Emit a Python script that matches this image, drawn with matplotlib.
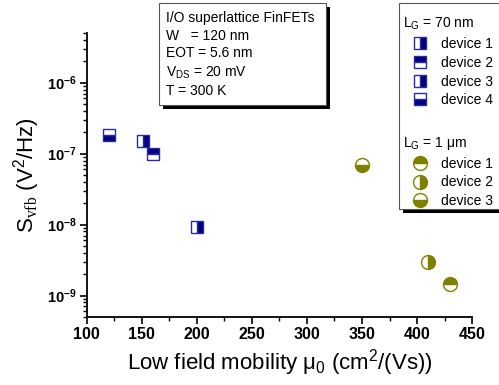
import matplotlib
matplotlib.use('Agg')
import matplotlib.pyplot as plt
from matplotlib.patches import Rectangle

plt.rcParams['font.family'] = ['Liberation Sans', 'DejaVu Sans']
plt.rcParams['mathtext.fontset'] = 'custom'
plt.rcParams['mathtext.rm'] = 'Liberation Sans'
plt.rcParams['mathtext.it'] = 'Liberation Sans:italic'
plt.rcParams['mathtext.bf'] = 'Liberation Sans:bold'
plt.rcParams['mathtext.sf'] = 'Liberation Serif'

# L_G = 70 nm devices
short_labels = ['device 1', 'device 2', 'device 3', 'device 4']
short_mu = [151, 160, 200, 120]
short_svfb = [1.5e-7, 1.0e-7, 9.1e-9, 1.83e-7]
short_fill = ['right', 'top', 'right', 'bottom']

# L_G = 1 um devices
long_labels = ['device 1', 'device 2', 'device 3']
long_mu = [430, 410, 350]
long_svfb = [1.46e-9, 3.0e-9, 7.0e-8]
long_fill = ['top', 'right', 'bottom']

navy = '#000080'
olive = '#808000'

fig = plt.figure(figsize=(4.99, 3.85), dpi=100)
ax = fig.add_axes([0.174, 0.177, 0.772, 0.737])

short_handles = []
for x, y, fs, lab in zip(short_mu, short_svfb, short_fill, short_labels):
    h, = ax.plot(x, y, 's', ms=9, fillstyle=fs, color=navy, mfc=navy,
                 mfcalt='white', mec='#2a2aa0', mew=1.0, linestyle='none', label=lab)
    short_handles.append(h)

long_handles = []
for x, y, fs, lab in zip(long_mu, long_svfb, long_fill, long_labels):
    h, = ax.plot(x, y, 'o', ms=10, fillstyle=fs, color=olive, mfc=olive,
                 mfcalt='white', mec=olive, mew=1.0, linestyle='none', label=lab)
    long_handles.append(h)

ax.set_yscale('log')
ax.set_xlim(100, 450)
ax.set_ylim(5e-10, 5e-6)
ax.set_xticks(range(100, 451, 50))
ax.set_xticks(range(125, 450, 50), minor=True)
ax.set_yticks([1e-9, 1e-8, 1e-7, 1e-6])
ax.set_yticklabels([r'$\mathbf{10^{-9}}$', r'$\mathbf{10^{-8}}$',
                    r'$\mathbf{10^{-7}}$', r'$\mathbf{10^{-6}}$'], fontsize=10.5)
for lab in ax.get_xticklabels():
    lab.set_fontweight('bold')
    lab.set_fontsize(11.5)
ax.tick_params(which='major', direction='out', length=5, width=1.2, pad=2)
ax.tick_params(which='minor', direction='out', length=3, width=1.0)
for s in ['top', 'right']:
    ax.spines[s].set_visible(False)
for s in ['left', 'bottom']:
    ax.spines[s].set_linewidth(1.3)

ax.set_xlabel(r'Low field mobility $\mathrm{\mu_0}$ (cm$^2$/(Vs))', fontsize=16, labelpad=4)
ax.set_ylabel(r'S$_{\mathsf{vfb}}$ (V$^2$/Hz)', fontsize=16, labelpad=4)

# info box with shadow
W, H = 499, 385
def fig_rect(x0, y0, x1, y1, **kw):
    r = Rectangle((x0 / W, 1 - y1 / H), (x1 - x0) / W, (y1 - y0) / H,
                  transform=fig.transFigure, **kw)
    fig.add_artist(r)

fig_rect(163, 7, 330, 109, facecolor='black', edgecolor='none', zorder=5)
fig_rect(159, 3, 326, 105, facecolor='white', edgecolor='#555555', lw=0.8, zorder=6)
info = ('I/O superlattice FinFETs\nW   = 120 nm\nEOT = 5.6 nm\n'
        r'V$_{\mathrm{DS}}$ = 20 mV' '\nT = 300 K')
fig.text(166 / W, 1 - 11 / H, info, fontsize=10, va='top', ha='left',
         linespacing=1.33, zorder=7)

# legend box with shadow
fig_rect(403, 8, 505, 213, facecolor='black', edgecolor='none', zorder=5)
fig_rect(399, 3, 510, 209, facecolor='white', edgecolor='#555555', lw=0.8, zorder=6)

leg_kw = dict(frameon=False, fontsize=10, title_fontsize=10, alignment='left',
              handlelength=2.4, handletextpad=0.35, labelspacing=0.34,
              borderpad=0, borderaxespad=0, loc='upper left', numpoints=1)
leg1 = fig.legend(handles=short_handles, title=r'L$_{\mathrm{G}}$ = 70 nm',
                  bbox_to_anchor=(403 / W, 1 - 16 / H), **leg_kw)
leg2 = fig.legend(handles=long_handles, title=r'L$_{\mathrm{G}}$ = 1 μm',
                  bbox_to_anchor=(403 / W, 1 - 135 / H), **leg_kw)
for lg in (leg1, leg2):
    lg.set_zorder(8)

fig.savefig('out.png', dpi=100)
